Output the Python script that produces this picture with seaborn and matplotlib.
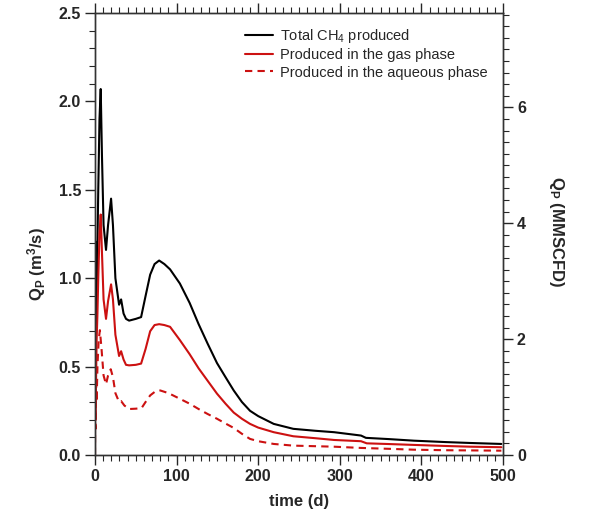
import numpy as np
import pandas as pd
import matplotlib
matplotlib.use("Agg")
import matplotlib.pyplot as plt
from matplotlib.ticker import MultipleLocator
import seaborn as sns

# values (time in days, Qp in m3/s)
t_total = [0, 0.3, 0.6, 1.0, 1.5, 2.5, 4, 5.5, 7, 8.5, 10.5, 13.5, 16, 19.7, 22, 25,
           29.5, 32, 35, 38, 41.8, 50, 56.5, 62, 67.6, 73, 78.6, 85, 92, 104, 116,
           127, 138, 149.5, 160, 170, 180, 190, 200, 219, 243, 270, 293, 326, 332,
           360, 391, 430, 460, 498]
q_total = [0.3, 1.21, 0.6, 1.0, 0.75, 1.05, 1.5, 1.9, 2.07, 1.7, 1.3, 1.16, 1.3, 1.45,
           1.3, 1.0, 0.85, 0.88, 0.8, 0.77, 0.76, 0.77, 0.78, 0.9, 1.02, 1.08, 1.10,
           1.08, 1.05, 0.97, 0.86, 0.74, 0.63, 0.52, 0.44, 0.365, 0.30, 0.25, 0.22,
           0.176, 0.148, 0.137, 0.129, 0.11, 0.097, 0.09, 0.081, 0.073, 0.068, 0.0625]

t_gas = [0, 0.15, 0.4, 0.7, 1.2, 2, 3, 4, 5.5, 7, 8.5, 10.5, 13.5, 16, 19.7, 22, 25,
         29.5, 32, 35, 38, 41.8, 50, 56.5, 62, 67.6, 73, 78.6, 85, 92, 104, 116, 127,
         138, 149.5, 160, 170, 180, 190, 200, 219, 243, 270, 293, 326, 333, 360, 391,
         430, 460, 498]
q_gas = [0.0, 0.56, 0.2, 0.55, 0.4, 0.65, 0.8, 1.0, 1.25, 1.36, 1.15, 0.88, 0.77, 0.87,
         0.965, 0.88, 0.68, 0.56, 0.587, 0.54, 0.51, 0.507, 0.51, 0.517, 0.6, 0.70,
         0.735, 0.74, 0.735, 0.725, 0.65, 0.57, 0.49, 0.42, 0.347, 0.29, 0.24, 0.205,
         0.176, 0.155, 0.129, 0.106, 0.095, 0.085, 0.078, 0.066, 0.062, 0.057, 0.051,
         0.047, 0.044]

t_aq = [0, 0.3, 0.7, 1.2, 2, 3, 4.5, 6, 8, 10.5, 13.5, 16, 19.3, 22, 25, 29.5, 32, 36,
        41.8, 50, 57, 62, 67.6, 74, 80, 90, 104, 116, 127, 138, 149.5, 160, 170, 180,
        190, 200, 219, 243, 293, 326, 360, 391, 430, 460, 498]
q_aq = [0.0, 0.3, 0.15, 0.45, 0.3, 0.5, 0.65, 0.706, 0.6, 0.45, 0.40, 0.45, 0.485,
        0.44, 0.35, 0.30, 0.305, 0.28, 0.26, 0.262, 0.265, 0.3, 0.337, 0.36, 0.365,
        0.35, 0.318, 0.29, 0.26, 0.232, 0.205, 0.178, 0.153, 0.12, 0.091, 0.078,
        0.0625, 0.053, 0.047, 0.04, 0.035, 0.030, 0.027, 0.026, 0.0245]

M3S_TO_MMSCFD = 86400 * 35.3147 / 1e6

sns.set_style("ticks")
plt.rcParams['font.family'] = ['Liberation Sans', 'DejaVu Sans']
plt.rcParams['mathtext.fontset'] = 'custom'
plt.rcParams['mathtext.rm'] = 'Liberation Sans'
plt.rcParams['mathtext.bf'] = 'Liberation Sans:bold'
plt.rcParams['mathtext.default'] = 'regular'

RED = "#cc1111"

fig = plt.figure(figsize=(5.94, 5.2), dpi=100)
ax = fig.add_axes([95 / 594, 1 - 455 / 520, 408 / 594, 442 / 520])

sns.lineplot(x=t_total, y=q_total, color="black", lw=1.5, ax=ax,
             label="Total CH$_4$ produced")
sns.lineplot(x=t_gas, y=q_gas, color=RED, lw=1.5, ax=ax,
             label="Produced in the gas phase")
sns.lineplot(x=t_aq, y=q_aq, color=RED, lw=1.5, ax=ax,
             label="Produced in the aqueous phase")
ax.lines[2].set_dashes([3.5, 2.5])

ax.set_xlim(0, 500)
ax.set_ylim(0, 2.5)
ax.xaxis.set_major_locator(MultipleLocator(100))
ax.xaxis.set_minor_locator(MultipleLocator(10))
ax.yaxis.set_major_locator(MultipleLocator(0.5))
ax.yaxis.set_minor_locator(MultipleLocator(0.1))
ax.yaxis.set_major_formatter(matplotlib.ticker.FormatStrFormatter('%.1f'))
ax.xaxis.set_ticks_position('both')
ax.tick_params(which='major', direction='out', length=7, width=1, labelsize=11.5, pad=3)
ax.tick_params(which='minor', direction='out', length=4, width=0.8)
for lab in ax.get_xticklabels() + ax.get_yticklabels():
    lab.set_fontweight('bold')
for sp in ax.spines.values():
    sp.set_linewidth(1)
    sp.set_color("#333333")

ax.set_xlabel("time (d)", fontsize=12, fontweight='bold', labelpad=7)
ax.set_ylabel(r"Q$_\mathbf{P}$ (m$^\mathbf{3}$/s)", fontsize=12, fontweight='bold')
ax.yaxis.set_label_coords(-0.115, 0.432)

ax2 = ax.twinx()
ax2.set_ylim(0, 2.5 * M3S_TO_MMSCFD)
ax2.yaxis.set_major_locator(MultipleLocator(2))
ax2.yaxis.set_minor_locator(MultipleLocator(0.2))
ax2.tick_params(which='major', direction='out', length=7, width=1, labelsize=11.5, pad=3)
ax2.tick_params(which='minor', direction='out', length=4, width=0.8)
for lab in ax2.get_yticklabels():
    lab.set_fontweight('bold')
ax2.set_ylabel(r"Q$_\mathbf{P}$ (MMSCFD)", fontsize=12, fontweight='bold', rotation=270)
ax2.yaxis.set_label_coords(1.154, 0.505)
for sp in ax2.spines.values():
    sp.set_linewidth(1)
    sp.set_color("#333333")

ax.legend(loc='upper left', bbox_to_anchor=(0.368, 0.968), frameon=False,
          fontsize=10.5, handlelength=1.9, handletextpad=0.5, labelspacing=0.22,
          borderpad=0, borderaxespad=0)

fig.savefig("out.png", dpi=100)
